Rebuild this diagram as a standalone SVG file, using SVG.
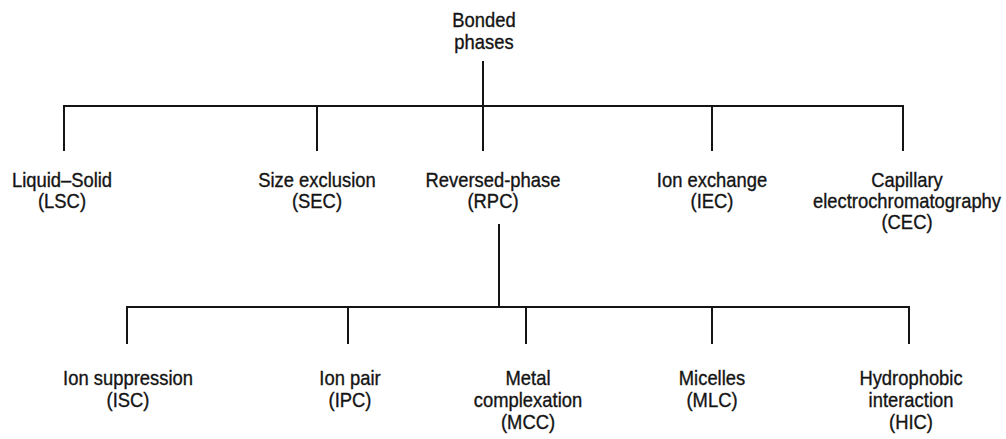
<svg xmlns="http://www.w3.org/2000/svg" width="1006" height="439" viewBox="0 0 1006 439">
<style>
text{font-family:"Liberation Sans",Arial,sans-serif;font-size:20px;fill:#141414;stroke:#141414;stroke-width:0.35;text-anchor:middle}
.c{stroke:#141414;stroke-width:2;fill:none}
</style>
<rect width="1006" height="439" fill="#fff"/>
<g id="connectors">
<path class="c" d="M483 61V151M64 151V106H903V151M317 106V151M712 106V151"/>
<path class="c" d="M499 224V307M127 344V307H909V344M348 307V344M526 307V344M712 307V344"/>
</g>
<g id="bonded" transform="translate(484 0) scale(0.92 1)"><text x="0" y="27">Bonded</text><text x="0" y="49">phases</text></g>
<g id="lsc" transform="translate(62 0) scale(0.92 1)"><text x="0" y="187">Liquid–Solid</text><text x="0" y="208">(LSC)</text></g>
<g id="sec" transform="translate(317 0) scale(0.92 1)"><text x="0" y="187">Size exclusion</text><text x="0" y="208">(SEC)</text></g>
<g id="rpc" transform="translate(493 0) scale(0.92 1)"><text x="0" y="187">Reversed-phase</text><text x="0" y="208">(RPC)</text></g>
<g id="iec" transform="translate(712 0) scale(0.92 1)"><text x="0" y="187">Ion exchange</text><text x="0" y="208">(IEC)</text></g>
<g id="cec" transform="translate(907 0) scale(0.92 1)"><text x="0" y="187">Capillary</text><text x="0" y="208">electrochromatography</text><text x="0" y="229">(CEC)</text></g>
<g id="isc" transform="translate(128 0) scale(0.92 1)"><text x="0" y="385">Ion suppression</text><text x="0" y="407">(ISC)</text></g>
<g id="ipc" transform="translate(350 0) scale(0.92 1)"><text x="0" y="385">Ion pair</text><text x="0" y="407">(IPC)</text></g>
<g id="mcc" transform="translate(528 0) scale(0.92 1)"><text x="0" y="385">Metal</text><text x="0" y="407">complexation</text><text x="0" y="429">(MCC)</text></g>
<g id="mlc" transform="translate(712 0) scale(0.92 1)"><text x="0" y="385">Micelles</text><text x="0" y="407">(MLC)</text></g>
<g id="hic" transform="translate(911 0) scale(0.92 1)"><text x="0" y="385">Hydrophobic</text><text x="0" y="407">interaction</text><text x="0" y="429">(HIC)</text></g>
</svg>
